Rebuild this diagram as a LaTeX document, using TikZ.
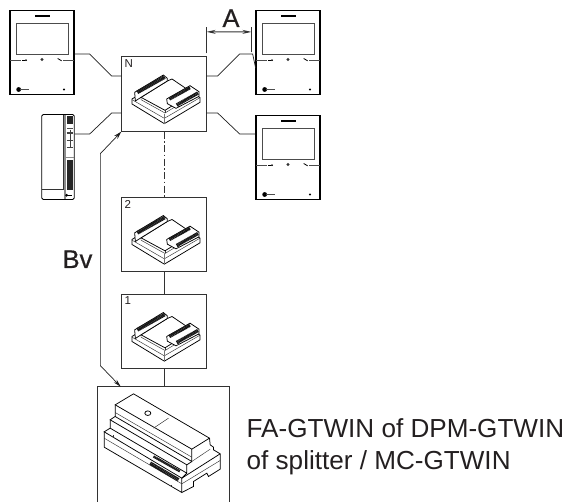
\documentclass[tikz,border=0pt]{standalone}
\usepackage{fontspec}
\setmainfont{Liberation Sans}
\newfontfamily\dimfont[FakeBold=0.6]{Liberation Sans}
\usetikzlibrary{arrows.meta, calc}
\definecolor{wirecol}{RGB}{30, 30, 30}
\definecolor{boxcol}{RGB}{50, 50, 50}
\definecolor{textcol}{RGB}{35, 31, 32}
\tikzset{
  % Device frames
  monitor/.style={
    rectangle, draw=black, line width=1.2pt, fill=white,
    minimum width=64pt, minimum height=84pt, inner sep=0pt
  },
  phone/.style={
    rectangle, rounded corners=1.5pt, draw=black, line width=0.9pt, fill=white,
    minimum width=32.5pt, minimum height=85pt, inner sep=0pt
  },
  modbox/.style={
    rectangle, draw=boxcol, line width=0.8pt,
    minimum width=84.5pt, minimum height=74.5pt, inner sep=0pt
  },
  gatebox/.style={
    rectangle, minimum width=131pt, minimum height=115pt, inner sep=0pt
  },
  % Texts
  numlab/.style={font=\fontsize{11.5}{13}\selectfont, inner sep=3pt, text=textcol},
  dimlab/.style={font=\dimfont\fontsize{25.5}{28}\selectfont, inner sep=0pt, anchor=base, text=textcol},
  caption/.style={font=\fontsize{26.1}{30}\selectfont, anchor=base west, inner sep=0pt, text=textcol},
  % Connectors
  wire/.style={color=wirecol, line width=0.7pt},
  riser/.style={color=boxcol, line width=0.9pt},
  riser dash/.style={riser, dash pattern=on 7pt off 2.5pt on 1.5pt off 2.5pt},
  bus/.style={{Stealth[length=8pt,width=4.5pt]}-{Stealth[length=8pt,width=4pt]}, color=wirecol, line width=0.7pt},
  dim/.style={{Stealth[length=9pt,width=4pt]}-{Stealth[length=9pt,width=4pt]}, color=boxcol, line width=1pt},
  tick/.style={color=boxcol, line width=0.8pt},
  % Parts of the icons
  thin part/.style={line width=0.45pt, draw=black!80},
  main part/.style={line width=0.75pt, draw=black},
  pins/.style={line width=3.2pt, black!90, dash pattern=on 1.4pt off 0.4pt},
  monitor face/.pic={
    \begin{scope}[x=.3333pt, y=-.3333pt, shift={(-126,-157)}]
      \draw[line width=1.7pt] (105,47) -- (150,47);
      \draw[line width=0.8pt, draw=black!70] (48,70) rectangle (205,163);
      \draw[line width=1.5pt, draw=black!70] (30,181) -- (62,181);
      \draw[line width=1.5pt, draw=black!70] (190,181) -- (222,181);
      \draw[line width=0.8pt] (67,180) -- (80,180);
      \fill[black!80] (78,180) circle (1pt);
      \draw[line width=0.8pt] (173,175) -- (185,182);
      \fill[black!80] (126,178) circle (1.6pt);
      \fill[black] (56,268) circle (2.4pt);
      \draw[line width=1.4pt, draw=black!70] (60,268) -- (86,268);
      \fill[black] (192,268) circle (1.2pt);
    \end{scope}
  },
  phone face/.pic={
    \begin{scope}[x=.3333pt, y=-.3333pt, shift={(-84,-170)}]
      \draw[thin part] (100,44) -- (100,270);
      \draw[line width=1.1pt, draw=black!45] (105,44) -- (105,296);
      \draw[thin part] (35,268) -- (100,268);
      \fill[black!85] (111,48) rectangle (130,72);
      \fill[black!85] (110,180) rectangle (130,270);
      \draw[line width=0.9pt, draw=black!45] (108,172) -- (132,172);
      \draw[line width=1.5pt, draw=black!70] (112,84) -- (128,84);
      \draw[line width=1.5pt, draw=black!75] (110,98) -- (130,98);
      \draw[line width=1.5pt, draw=black!75] (110,120) -- (130,120);
      \draw[line width=1.5pt, draw=black!75] (110,142) -- (130,142);
      \draw[line width=0.8pt, draw=black!75] (120,88) -- (120,142);
      \fill[black] (110,285) circle (1.5pt);
      \draw[line width=1.3pt] (110,285) -- (127,285);
    \end{scope}
  },
  module face/.pic={
    \begin{scope}[x=.3333pt, y=-.3333pt, shift={(-162,-135)}]
      % base plate
      \draw[main part, fill=white] (66,150) -- (90,135) -- (238,125) -- (270,146) -- (270,160) -- (163,224) -- (66,165) -- cycle;
      \draw[thin part] (66,152) -- (163,208) -- (270,146);
      \draw[line width=1.1pt, draw=black!55] (163,194) -- (163,224);
      % top plate
      \draw[main part, fill=white] (93,145) -- (172,96) -- (186,90) -- (248,132) -- (165,184) -- cycle;
      \draw[thin part] (93,145) -- (93,152) -- (165,192) -- (248,142);
      \draw[thin part] (165,184) -- (165,192);
      % connector blocks
      \draw[main part, fill=white] (74,130) -- (160,78) -- (172,88) -- (172,96) -- (93,145) -- (76,156) -- cycle;
      \draw[pins, line width=3.8pt] (82,130) -- (164,84);
      \draw[main part, fill=white] (170,150) -- (240,110) -- (267,128) -- (267,142) -- (198,178) -- (172,164) -- cycle;
      \draw[pins, line width=3.4pt] (200,168) -- (264,132);
      \draw[pins, line width=3.4pt] (178,150) -- (240,116);
      \draw[thin part] (205,175) -- (205,162);
    \end{scope}
  },
  gate face/.pic={
    \begin{scope}[x=.3333pt, y=-.3333pt, shift={(-250,-224)}]
      % lid
      \draw[main part] (105,105) -- (160,72) -- (388,205) -- (335,238) -- cycle;
      \draw[thin part] (220,175) -- (265,145);
      \draw[main part] (203,130) ellipse (3pt and 2.3pt);
      % steps
      \draw[main part] (105,105) -- (105,140) -- (335,275) -- (335,238);
      \draw[main part] (105,140) -- (90,150) -- (320,285) -- (335,275);
      \draw[thin part] (105,128) -- (335,262);
      \draw[main part] (90,150) -- (90,175) -- (320,310) -- (320,285);
      \draw[main part] (90,175) -- (72,186) -- (305,325) -- (320,310);
      \draw[main part] (72,186) -- (72,232) -- (305,368) -- (305,325);
      \draw[thin part] (72,205) -- (305,342);
      \draw[thin part] (100,195) -- (100,205);
      \draw[thin part] (272,345) -- (272,350);
      % end profile
      \draw[main part] (305,368) -- (340,350) -- (340,335) -- (380,310) -- (385,320) -- (420,298) -- (420,252) -- (400,240) -- (400,232) -- (390,225) -- (388,205);
      \draw[main part] (305,325) -- (420,252);
      \draw[thin part] (335,275) -- (390,238);
      \draw[thin part] (305,342) -- (420,272);
      % terminals
      \draw[pins, line width=3.6pt] (210,280) -- (295,330);
      \draw[pins, line width=2.4pt] (220,260) -- (300,305);
    \end{scope}
  },
}

\begin{document}
\begin{tikzpicture}[x=1pt, y=-1pt]
  \useasboundingbox (0,0) rectangle (566,502);

  %% ── Devices ───────────────────────────────────────────────────────────────
  \node[monitor] (monA) at (42,52.5)   {};
  \node[monitor] (monB) at (288,52.5)  {};
  \node[monitor] (monC) at (288,157.5) {};
  \node[phone]   (door) at (58,157)    {};
  \pic at (monA) {monitor face};
  \pic at (monB) {monitor face};
  \pic at (monC) {monitor face};
  \pic at (door) {phone face};

  %% ── Modules ───────────────────────────────────────────────────────────────
  \node[modbox, label={[numlab, anchor=north west]north west:N}] (boxN) at (164,94)    {};
  \node[modbox, label={[numlab, anchor=north west]north west:2}] (box2) at (164,234.5) {};
  \node[modbox, label={[numlab, anchor=north west]north west:1}] (box1) at (164,331.5) {};
  \node[gatebox] (gate) at (163.5,444.5) {};
  \pic at (boxN) {module face};
  \pic at (box2) {module face};
  \pic at (box1) {module face};
  \pic at (gate) {gate face};

  % the gate box stays open at the bottom
  \draw[modbox] (gate.south west) -- (gate.north west) -- (gate.north east) -- (gate.south east);

  %% ── Connectors ────────────────────────────────────────────────────────────
  \draw[wire] ([yshift=-1.5pt]monA.east) -- ++(15,0) -- ++(22,22) -- ([yshift=18pt]boxN.west);
  \draw[wire] ([yshift=23pt]door.east) -- ++(15,0) -- ++(22,-21) -- ([yshift=-19pt]boxN.west);
  \draw[wire] ([yshift=18pt]boxN.east) -- ++(11,0) -- ++(22,-22) -- ++(13,0) -- ++(3,14);
  \draw[wire] ([yshift=-19pt]boxN.east) -- ++(11,0) -- ++(22,21) -- ([yshift=23.5pt]monC.west);
  \draw[riser dash] (boxN.south) -- (box2.north);
  \draw[riser] (box2.south) -- (box1.north);
  \draw[riser] (box1.south) -- (box1.south |- gate.north);
  \coordinate (gatein) at ($(gate.north west)+(23,0)$);
  \draw[bus] (boxN.south west) -- ++(-21,22) -- ++(0,212) -- (gatein);

  %% ── Dimensions ────────────────────────────────────────────────────────────
  \coordinate (dimL) at ($(boxN.north east)+(0,-24.5)$);
  \coordinate (dimR) at ($(monB.north west)+(-4,22)$);
  \draw[tick] ([yshift=3pt]boxN.north east) -- ++(0,-26);
  \draw[tick] (monB.west) ++(-4,0) -- ++(0,-25);
  \draw[dim] (dimL) -- (dimR);
  \node[dimlab] (lblA) at (231,27) {A};
  \node[dimlab] (lblB) at (77.5,268) {Bv};

  %% ── Caption ───────────────────────────────────────────────────────────────
  \node[caption] (capA) at (246.5,438) {FA-GTWIN of DPM-GTWIN};
  \node[caption] (capB) at (246.5,470) {of splitter / MC-GTWIN};
\end{tikzpicture}
\end{document}
